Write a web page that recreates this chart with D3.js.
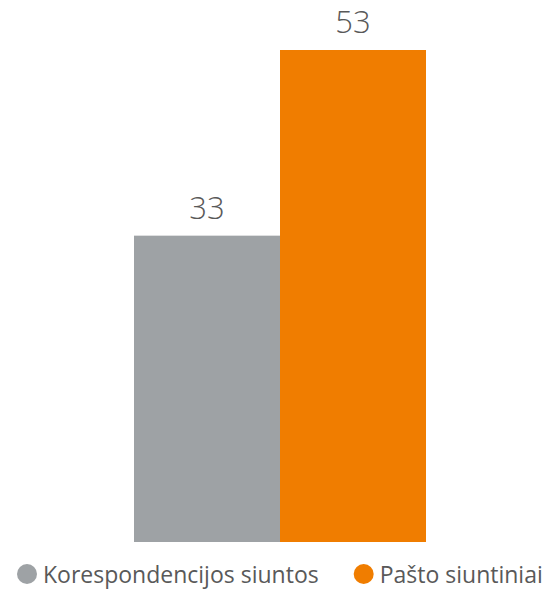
<!DOCTYPE html>
<html>
<head>
<meta charset="utf-8">
<script src="https://cdn.jsdelivr.net/npm/d3@7"></script>
<style>
  html, body { margin: 0; padding: 0; background: #fff; }
  svg { display: block; }
  text { font-family: "Open Sans", "Noto Sans", sans-serif; fill: #595959; }
</style>
</head>
<body>
<svg id="chart" width="559" height="592"></svg>
<script>
const categories = ["Korespondencijos siuntos", "Pašto siuntiniai"];
const values = [33, 53];
const colors = ["#9ea2a5", "#f07d00"];

const svg = d3.select("#chart");

const x = d3.scaleBand().domain(categories).range([134, 426]).paddingInner(0).paddingOuter(0);
const y = d3.scaleLinear().domain([0, 53]).range([542, 50]);

svg.selectAll("rect.bar")
  .data(categories)
  .join("rect")
  .attr("class", "bar")
  .attr("x", d => x(d))
  .attr("width", x.bandwidth())
  .attr("y", (d, i) => y(values[i]))
  .attr("height", (d, i) => y(0) - y(values[i]))
  .attr("fill", (d, i) => colors[i]);

svg.selectAll("text.val")
  .data(categories)
  .join("text")
  .attr("class", "val")
  .attr("x", d => x(d) + x.bandwidth() / 2)
  .attr("y", (d, i) => y(values[i]) - 17)
  .attr("text-anchor", "middle")
  .style("font-size", "31px")
  .style("font-weight", "300")
  .text((d, i) => values[i]);

// legend
const legend = svg.append("g");
let cx = 17;
categories.forEach((c, i) => {
  const g = legend.append("g");
  g.append("circle")
    .attr("cx", cx + 10)
    .attr("cy", 574)
    .attr("r", 10)
    .attr("fill", colors[i]);
  const t = g.append("text")
    .attr("x", cx + 26)
    .attr("y", 583)
    .style("font-size", "23px")
    .text(c);
  cx = cx + 26 + t.node().getComputedTextLength() + 35;
});
</script>
</body>
</html>
